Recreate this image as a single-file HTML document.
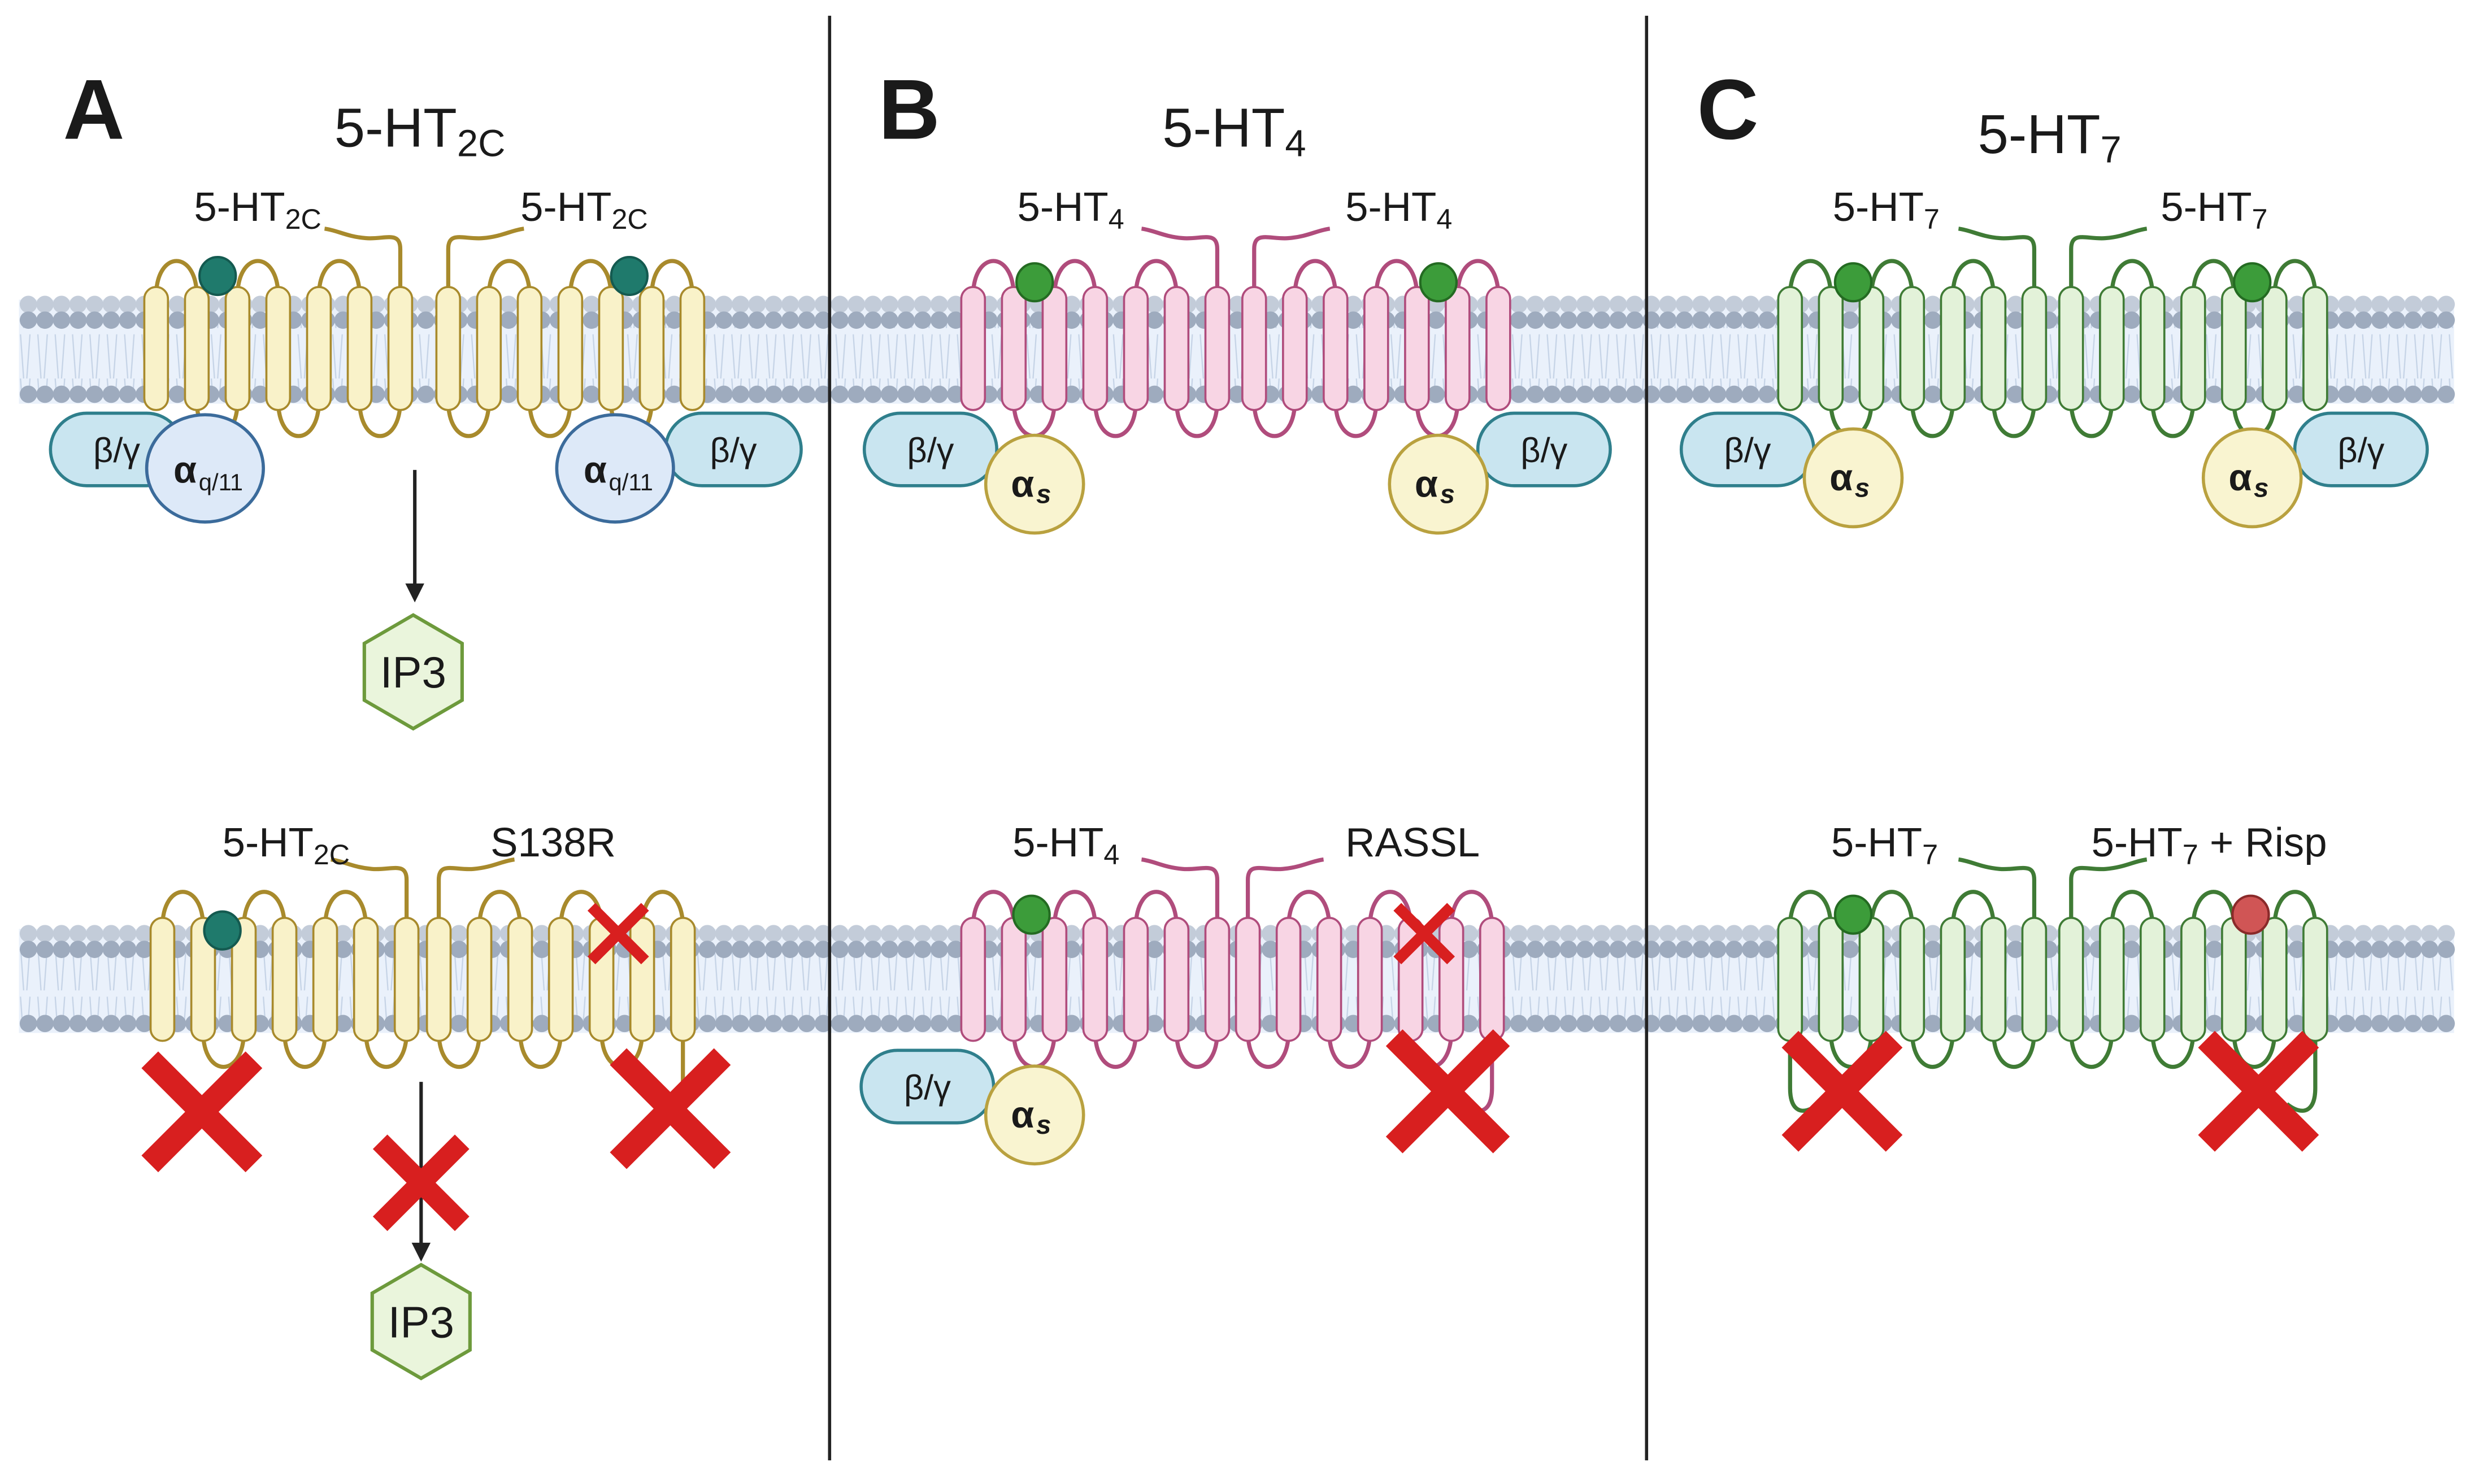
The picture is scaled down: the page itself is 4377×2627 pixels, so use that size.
<!DOCTYPE html>
<html><head><meta charset="utf-8">
<style>
html,body{margin:0;padding:0;background:#fff;}
svg{display:block;}
text{font-family:"Liberation Sans",sans-serif;fill:#1a1a1a;}
</style></head>
<body>
<svg id="s" width="4377" height="2627" viewBox="0 0 1568 941" preserveAspectRatio="none" xmlns="http://www.w3.org/2000/svg">
<defs>
<pattern id="tails" x="0" y="0" width="11" height="60" patternUnits="userSpaceOnUse">
<path d="M2 0 L4 28 M8 0 L6 28 M2 32 L4 60 M8 32 L6 60" stroke="#c5d3e6" stroke-width="0.8" fill="none"/>
</pattern>
</defs>
<rect width="1568" height="941" fill="#fff"/>
<g id="mem"></g>
<g id="rec"></g>
<line x1="526" y1="10" x2="526" y2="926" stroke="#222" stroke-width="2"/>
<line x1="1044" y1="10" x2="1044" y2="926" stroke="#222" stroke-width="2"/>

<text x="40" y="88" font-size="54" font-weight="bold">A</text>
<text x="557" y="88" font-size="54" font-weight="bold">B</text>
<text x="1076" y="88" font-size="54" font-weight="bold">C</text>
<text x="212" y="93" font-size="35">5-HT<tspan font-size="24" dy="6">2C</tspan></text>
<text x="737" y="93" font-size="35">5-HT<tspan font-size="24" dy="6">4</tspan></text>
<text x="1254" y="97" font-size="35">5-HT<tspan font-size="24" dy="6">7</tspan></text>

<g font-size="26">
<text x="123" y="140">5-HT<tspan font-size="18" dy="5">2C</tspan></text>
<text x="330" y="140">5-HT<tspan font-size="18" dy="5">2C</tspan></text>
<text x="645" y="140">5-HT<tspan font-size="18" dy="5">4</tspan></text>
<text x="853" y="140">5-HT<tspan font-size="18" dy="5">4</tspan></text>
<text x="1162" y="140">5-HT<tspan font-size="18" dy="5">7</tspan></text>
<text x="1370" y="140">5-HT<tspan font-size="18" dy="5">7</tspan></text>
<text x="141" y="543">5-HT<tspan font-size="18" dy="5">2C</tspan></text>
<text x="311" y="543">S138R</text>
<text x="642" y="543">5-HT<tspan font-size="18" dy="5">4</tspan></text>
<text x="853" y="543">RASSL</text>
<text x="1161" y="543">5-HT<tspan font-size="18" dy="5">7</tspan></text>
<text x="1326" y="543">5-HT<tspan font-size="18" dy="5">7</tspan><tspan dy="-5"> + Risp</tspan></text>
</g>

<g id="gp"></g>
<g id="over"></g>
</svg>
<script>
var NS="http://www.w3.org/2000/svg";
function el(p,tag,a,txt){var e=document.createElementNS(NS,tag);for(var k in a)e.setAttribute(k,a[k]);if(txt)e.textContent=txt;document.getElementById(p).appendChild(e);return e;}
[190,589].forEach(function(y){
 el("mem","rect",{x:12,y:y,width:1544,height:66,fill:"#eaf1fb"});
 el("mem","rect",{x:12,y:y+12,width:1544,height:46,fill:"url(#tails)"});
 for(var x=18;x<1556;x+=10.5){
  el("mem","circle",{cx:x,cy:y+3,r:5.5,fill:"#c3ccd9"});
 }
 for(var x=18;x<1556;x+=10.5){
  el("mem","circle",{cx:x,cy:y+13,r:5.5,fill:"#9eabbe"});
  el("mem","circle",{cx:x,cy:y+60,r:5.5,fill:"#9eabbe"});
 }
});
function receptor(x0,dir,yt,fill,stroke,tailDown){
 var s=25.8,h=78,xs=[];
 for(var i=0;i<7;i++)xs.push(x0+dir*i*s);
 var pw=2.6;
 function arc(a,b,y,dy){el("rec","path",{d:"M"+a+" "+y+" C"+a+" "+(y+dy)+" "+b+" "+(y+dy)+" "+b+" "+y,fill:"none",stroke:stroke,"stroke-width":pw});}
 arc(xs[0],xs[1],yt+6,-30);arc(xs[2],xs[3],yt+6,-30);arc(xs[4],xs[5],yt+6,-30);
 arc(xs[1],xs[2],yt+h-6,30);arc(xs[3],xs[4],yt+h-6,30);arc(xs[5],xs[6],yt+h-6,30);
 var t=xs[6];
 el("rec","path",{d:"M"+t+" "+(yt+5)+" L"+t+" "+(yt-24)+" C"+t+" "+(yt-36)+" "+(t-dir*10)+" "+(yt-30)+" "+(t-dir*22)+" "+(yt-31)+" C"+(t-dir*34)+" "+(yt-32)+" "+(t-dir*40)+" "+(yt-36)+" "+(t-dir*48)+" "+(yt-37),fill:"none",stroke:stroke,"stroke-width":pw});
 if(tailDown){var b=xs[0];el("rec","path",{d:"M"+b+" "+(yt+h-5)+" L"+b+" "+(yt+h+30)+" C"+b+" "+(yt+h+45)+" "+(b+dir*8)+" "+(yt+h+48)+" "+(b+dir*18)+" "+(yt+h+40),fill:"none",stroke:stroke,"stroke-width":pw});}
 xs.forEach(function(x){el("rec","rect",{x:x-7.5,y:yt,width:15,height:h,rx:7.5,fill:fill,stroke:stroke,"stroke-width":1.3});});
 return xs;
}
var A=["#f9f2c9","#a88a2c"],B=["#f8d5e4","#b04c7c"],C=["#e3f2d9","#3f7b35"];
receptor(99,1,182,A[0],A[1]);receptor(439,-1,182,A[0],A[1]);
receptor(103,1,582,A[0],A[1]);receptor(433,-1,582,A[0],A[1],true);
receptor(617,1,182,B[0],B[1]);receptor(950,-1,182,B[0],B[1]);
receptor(617,1,582,B[0],B[1]);receptor(946,-1,582,B[0],B[1],true);
receptor(1135,1,182,C[0],C[1]);receptor(1468,-1,182,C[0],C[1]);
receptor(1135,1,582,C[0],C[1],true);receptor(1468,-1,582,C[0],C[1],true);
function dot(x,y,f,st){el("rec","ellipse",{cx:x,cy:y,rx:11.5,ry:12,fill:f,stroke:st,"stroke-width":1.5});}
dot(138,175,"#1f7a6c","#145a50");dot(399,175,"#1f7a6c","#145a50");dot(141,590,"#1f7a6c","#145a50");
dot(656,179,"#3c9c3a","#246b22");dot(912,179,"#3c9c3a","#246b22");dot(654,580,"#3c9c3a","#246b22");
dot(1175,179,"#3c9c3a","#246b22");dot(1428,179,"#3c9c3a","#246b22");dot(1175,580,"#3c9c3a","#246b22");
dot(1427,580,"#d05555","#8a2a2a");
function bg(x,y,w){el("gp","rect",{x:x,y:y,width:w,height:46,rx:23,fill:"#c9e5f0",stroke:"#2f7f8c","stroke-width":2});
 el("gp","text",{x:x+w/2,y:y+31,"font-size":22,"text-anchor":"middle"},"β/γ");}
function aq(cx,cy){el("gp","ellipse",{cx:cx,cy:cy,rx:37,ry:34,fill:"#dde9f8",stroke:"#3b6b9b","stroke-width":2});
 el("gp","text",{x:cx-20,y:cy+9,"font-size":24,"font-weight":"bold"},"α");
 el("gp","text",{x:cx-4,y:cy+14,"font-size":15},"q/11");}
function as(cx,cy){el("gp","circle",{cx:cx,cy:cy,r:31,fill:"#f9f4d0",stroke:"#b9a13f","stroke-width":2});
 el("gp","text",{x:cx-15,y:cy+8,"font-size":24,"font-weight":"bold"},"α");
 el("gp","text",{x:cx+1,y:cy+12,"font-size":17,"font-weight":"bold","font-style":"italic"},"s");}
bg(32,262,84);aq(130,297);bg(422,262,86);aq(390,297);
bg(548,262,84);as(656,307);bg(937,262,84);as(912,307);
bg(546,666,84);as(656,707);
bg(1066,262,84);as(1175,303);bg(1455,262,84);as(1428,303);
function arrow(x,y1,y2){el("over","line",{x1:x,y1:y1,x2:x,y2:y2-10,stroke:"#222","stroke-width":2.2});
 el("over","path",{d:"M"+(x-6)+" "+(y2-12)+" L"+(x+6)+" "+(y2-12)+" L"+x+" "+y2+"Z",fill:"#222"});}
arrow(263,298,382);arrow(267,686,800);
function hex(cx,cy){var p=[[0,-36],[31,-18],[31,18],[0,36],[-31,18],[-31,-18]].map(function(a){return (cx+a[0])+","+(cy+a[1]);}).join(" ");
 el("over","polygon",{points:p,fill:"#eaf5dc",stroke:"#6d9a3c","stroke-width":2.2});
 el("over","text",{x:cx,y:cy+10,"font-size":28,"text-anchor":"middle"},"IP3");}
hex(262,426);hex(267,838);
function X(cx,cy,r,w){el("over","path",{d:"M"+(cx-r)+" "+(cy-r)+" L"+(cx+r)+" "+(cy+r)+" M"+(cx+r)+" "+(cy-r)+" L"+(cx-r)+" "+(cy+r),stroke:"#d81f1f","stroke-width":w,fill:"none"});}
X(392,592,17,7);X(903,592,17,7);
X(128,705,33,15);X(425,703,33,15);X(267,750,26,13);
X(918,692,34,15);X(1168,692,33,15);X(1432,692,33,15);
</script>
</body></html>
